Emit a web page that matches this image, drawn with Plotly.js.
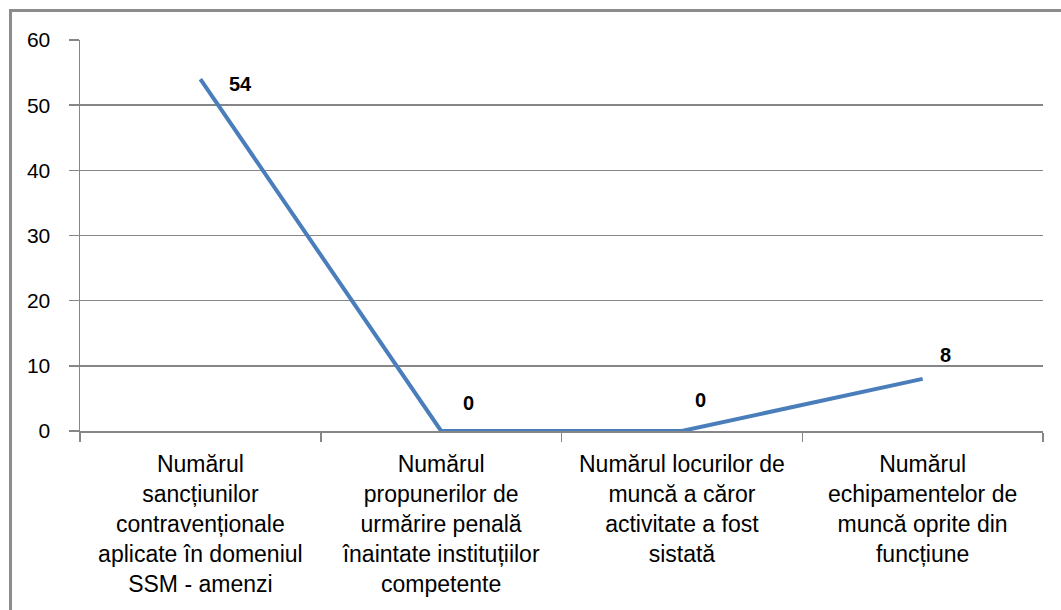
<!DOCTYPE html>
<html>
<head>
<meta charset="utf-8">
<script src="https://cdn.plot.ly/plotly-3.0.1.min.js"></script>
<style>
  html, body { margin: 0; padding: 0; overflow: hidden; background: #fff; }
  #wrap { position: relative; width: 1061px; height: 610px; overflow: hidden; }
  #chart { position: absolute; left: 0; top: 0; width: 1061px; height: 610px; }
  #frame { position: absolute; left: 9px; top: 9px; width: 1200px; height: 800px;
           border: 3px solid #8c8c8c; pointer-events: none; box-sizing: border-box; }
</style>
</head>
<body>
<div id="wrap">
  <div id="chart"></div>
  <div id="frame"></div>
</div>
<script>
const categories = [
  "Numărul<br>sancțiunilor<br>contravenționale<br>aplicate în domeniul<br>SSM - amenzi",
  "Numărul<br>propunerilor de<br>urmărire penală<br>înaintate instituțiilor<br>competente",
  "Numărul locurilor de<br>muncă a căror<br>activitate a fost<br>sistată",
  "Numărul<br>echipamentelor de<br>muncă oprite din<br>funcțiune"
];
const values = [54, 0, 0, 8];
const yTicks = [0, 10, 20, 30, 40, 50, 60];

// label offsets (pixels) relative to each point
const labelShiftX = [40, 27, 19, 23];
const labelShiftY = [-5, 28, 31, 24];

const trace = {
  type: "scatter",
  mode: "lines",
  x: categories,
  y: values,
  line: { color: "#4a7ebb", width: 4 },
  hoverinfo: "none"
};

const annotations = values.map((v, i) => ({
  x: categories[i],
  y: v,
  xref: "x",
  yref: "y",
  text: String(v),
  showarrow: false,
  xshift: labelShiftX[i],
  yshift: labelShiftY[i],
  font: { family: "Liberation Sans, Arial, sans-serif", size: 20, color: "#000", weight: "bold" }
}));

const layout = {
  width: 1061,
  height: 610,
  margin: { l: 80, r: 18, t: 40, b: 179 },
  paper_bgcolor: "#ffffff",
  plot_bgcolor: "#ffffff",
  showlegend: false,
  font: { family: "Liberation Sans, Arial, sans-serif", color: "#000" },
  xaxis: {
    type: "category",
    range: [-0.5, 3.5],
    tickson: "boundaries",
    ticks: "outside",
    ticklen: 9,
    tickwidth: 1.5,
    tickcolor: "#868686",
    showline: true,
    linecolor: "#868686",
    linewidth: 1.5,
    showgrid: false,
    zeroline: false,
    tickangle: 0,
    ticklabelstandoff: 12,
    tickfont: { size: 23, color: "#000" },
    fixedrange: true
  },
  yaxis: {
    range: [0, 60],
    tickvals: yTicks,
    ticktext: yTicks.map(String),
    ticks: "outside",
    ticklen: 10,
    tickwidth: 1.5,
    tickcolor: "#868686",
    showline: true,
    linecolor: "#868686",
    linewidth: 1.5,
    showgrid: true,
    gridcolor: "#868686",
    gridwidth: 1.5,
    zeroline: false,
    ticklabelstandoff: 14,
    tickfont: { size: 21, color: "#000" },
    fixedrange: true
  },
  annotations: annotations
};

Plotly.newPlot("chart", [trace], layout, { displayModeBar: false, staticPlot: true });
</script>
</body>
</html>
